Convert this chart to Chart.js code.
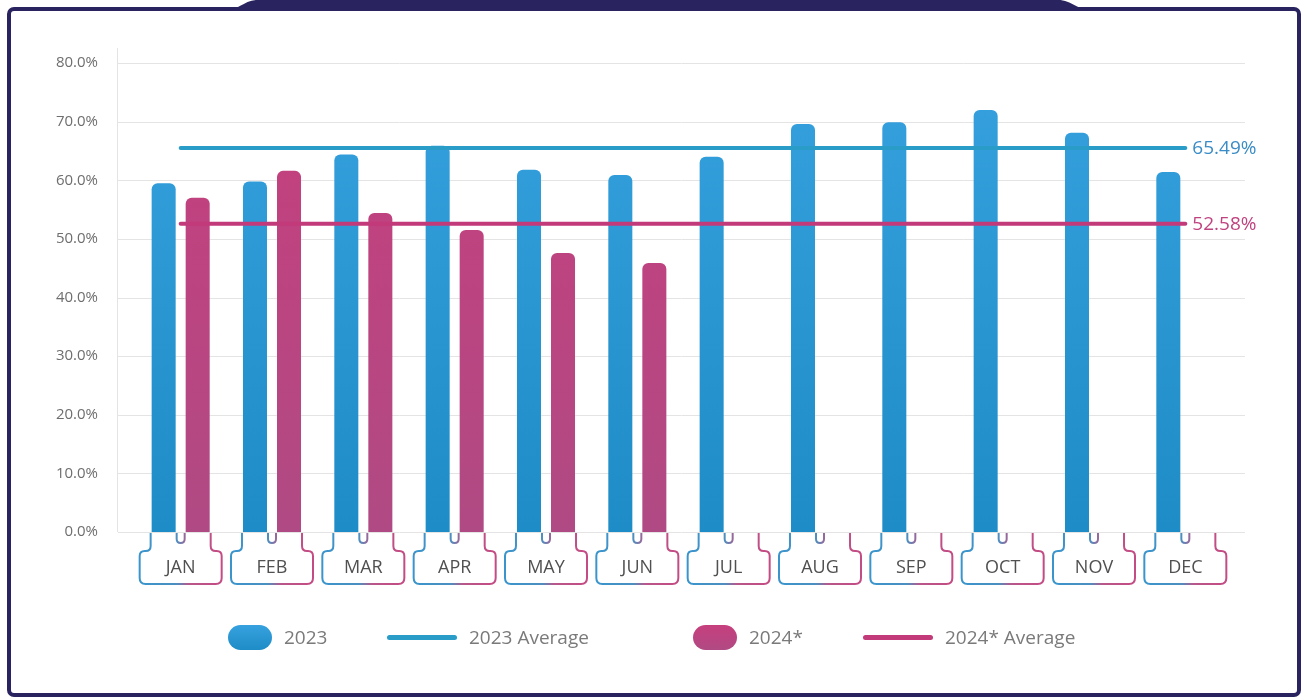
<!DOCTYPE html>
<html>
<head>
<meta charset="utf-8">
<script src="https://cdn.jsdelivr.net/npm/chart.js@4"></script>
<style>
  body { margin: 0; background: #fff; font-family: "Open Sans", sans-serif; }
  #wrap { position: relative; width: 1308px; height: 698px; overflow: hidden; background: #fff; }
  #frame { position: absolute; left: 7px; top: 7px; width: 1294px; height: 690px; box-sizing: border-box;
           border: 4px solid #29235f; border-radius: 7px; }
  #tab { position: absolute; left: 0; top: 0; }
  #chart { position: absolute; left: 0; top: 0; }
  .key { position: absolute; top: 624px; height: 26px; display: flex; align-items: center;
         font-size: 19px; color: #7a7a7a; white-space: nowrap; }
  .pill { width: 44px; height: 25px; border-radius: 13px; margin-right: 12px; }
  .bar { width: 70px; height: 5px; border-radius: 3px; margin-right: 12px; }
</style>
</head>
<body>
<div id="wrap">
  <div id="frame"></div>
  <svg id="tab" width="1308" height="14">
    <path d="M224 11 C238 11 244 0 258 0 L1058 0 C1072 0 1078 11 1094 11 Z" fill="#29235f"/>
  </svg>
  <canvas id="chart" width="1308" height="698"></canvas>
  <div id="legend"></div>
</div>
<script>
const months = ["JAN", "FEB", "MAR", "APR", "MAY", "JUN", "JUL", "AUG", "SEP", "OCT", "NOV", "DEC"];
const rate2023 = [59.5, 59.8, 64.4, 65.9, 61.8, 60.9, 64.0, 69.6, 69.9, 72.0, 68.1, 61.4];
const rate2024 = [57.0, 61.6, 54.4, 51.5, 47.6, 45.9, null, null, null, null, null, null];
const avg2023 = 65.49;
const avg2024 = 52.58;
const seriesNames = ["2023", "2023 Average", "2024*", "2024* Average"];
const yTickLabels = ["0.0%", "10.0%", "20.0%", "30.0%", "40.0%", "50.0%", "60.0%", "70.0%", "80.0%"];

const BLUE_LINE = "#2a9cc8";
const PINK_LINE = "#c23a79";

function vGradient(chart, top, bottom) {
  const area = chart.chartArea;
  if (!area) return top;
  const g = chart.ctx.createLinearGradient(0, area.top, 0, area.bottom);
  g.addColorStop(0, top);
  g.addColorStop(1, bottom);
  return g;
}

// light grid that runs a little past the plot on both sides, plus the left rule
const gridPlugin = {
  id: "wideGrid",
  beforeDatasetsDraw(chart) {
    const { ctx, chartArea, scales } = chart;
    ctx.save();
    ctx.strokeStyle = "#e4e4e4";
    ctx.lineWidth = 1;
    scales.y.ticks.forEach(t => {
      const y = Math.round(scales.y.getPixelForValue(t.value)) + 0.5;
      ctx.beginPath();
      ctx.moveTo(chartArea.left - 17, y);
      ctx.lineTo(chartArea.right + 14, y);
      ctx.stroke();
    });
    ctx.beginPath();
    ctx.moveTo(chartArea.left - 17.5, chartArea.top - 15);
    ctx.lineTo(chartArea.left - 17.5, chartArea.bottom);
    ctx.stroke();
    ctx.restore();
  }
};

// month tags under each pair of bars
const tagPlugin = {
  id: "monthTags",
  afterDatasetsDraw(chart) {
    const { ctx, scales } = chart;
    const z = scales.y.getPixelForValue(0);
    const meta = chart.getDatasetMeta(0);
    ctx.save();
    months.forEach((m, i) => {
      const c = scales.x.getPixelForValue(i);
      const el = meta.data[i];
      const half = el.width / 2;
      const bL = el.x - half - 1, bR = el.x + half + 1;
      const pL = 2 * c - bR, pR = 2 * c - bL;
      const boxL = c - 41, boxR = c + 41;
      const top = z + 1, step = z + 19, dip = z + 11, bottom = z + 52;

      const g = ctx.createLinearGradient(boxL, 0, boxR, 0);
      g.addColorStop(0, "#3a95cc");
      g.addColorStop(0.45, "#4c8fc0");
      g.addColorStop(0.6, "#b9578a");
      g.addColorStop(1, "#c44b84");
      ctx.strokeStyle = g;
      ctx.lineWidth = 2;
      ctx.lineJoin = "round";

      ctx.beginPath();
      ctx.moveTo(bL, top);
      ctx.lineTo(bL, step - 5);
      ctx.quadraticCurveTo(bL, step, bL - 5, step);
      ctx.lineTo(boxL + 5, step);
      ctx.quadraticCurveTo(boxL, step, boxL, step + 5);
      ctx.lineTo(boxL, bottom - 6);
      ctx.quadraticCurveTo(boxL, bottom, boxL + 6, bottom);
      ctx.lineTo(boxR - 6, bottom);
      ctx.quadraticCurveTo(boxR, bottom, boxR, bottom - 6);
      ctx.lineTo(boxR, step + 5);
      ctx.quadraticCurveTo(boxR, step, boxR - 5, step);
      ctx.lineTo(pR + 5, step);
      ctx.quadraticCurveTo(pR, step, pR, step - 5);
      ctx.lineTo(pR, top);
      ctx.stroke();

      ctx.beginPath();
      ctx.moveTo(bR, top);
      ctx.lineTo(bR, dip - 4);
      ctx.quadraticCurveTo(bR, dip, c, dip);
      ctx.quadraticCurveTo(pL, dip, pL, dip - 4);
      ctx.lineTo(pL, top);
      ctx.stroke();

      ctx.fillStyle = "#505050";
      ctx.font = "18px 'Open Sans'";
      ctx.textAlign = "center";
      ctx.textBaseline = "middle";
      ctx.fillText(m, c, z + 36);
    });
    ctx.restore();
  }
};

// value label at the right end of each average line
const avgLabelPlugin = {
  id: "avgLabels",
  afterDatasetsDraw(chart) {
    const { ctx } = chart;
    ctx.save();
    ctx.font = "19px 'Open Sans'";
    ctx.textAlign = "left";
    ctx.textBaseline = "middle";
    chart.data.datasets.forEach((ds, di) => {
      if (ds.type !== "line") return;
      const pts = chart.getDatasetMeta(di).data;
      const last = pts[pts.length - 1];
      ctx.fillStyle = ds.labelColor;
      ctx.fillText(ds.data[ds.data.length - 1].toFixed(2) + "%", last.x + 7, last.y + 1);
    });
    ctx.restore();
  }
};

new Chart(document.getElementById("chart"), {
  type: "bar",
  data: {
    labels: months,
    datasets: [
      {
        label: seriesNames[0],
        data: rate2023,
        backgroundColor: ctx => vGradient(ctx.chart, "#36a1de", "#1e8cc7"),
        borderRadius: { topLeft: 6, topRight: 6 },
        borderSkipped: "bottom",
        order: 2
      },
      {
        label: seriesNames[2],
        data: rate2024,
        backgroundColor: ctx => vGradient(ctx.chart, "#c63f7d", "#b04a84"),
        borderRadius: { topLeft: 6, topRight: 6 },
        borderSkipped: "bottom",
        order: 2
      },
      {
        type: "line",
        label: seriesNames[1],
        data: months.map(() => avg2023),
        borderColor: BLUE_LINE,
        labelColor: "#3a8cc6",
        borderWidth: 4,
        borderCapStyle: "round",
        pointRadius: 0,
        order: 1
      },
      {
        type: "line",
        label: seriesNames[3],
        data: months.map(() => avg2024),
        borderColor: PINK_LINE,
        labelColor: "#c0437f",
        borderWidth: 4,
        borderCapStyle: "round",
        pointRadius: 0,
        order: 0
      }
    ]
  },
  options: {
    responsive: false,
    animation: false,
    layout: { padding: { left: 20, right: 77, top: 63, bottom: 166 } },
    datasets: {
      bar: { categoryPercentage: 0.745, barPercentage: 0.706 }
    },
    scales: {
      x: { display: false },
      y: {
        min: 0,
        max: 80,
        afterFit: s => { s.width = 115; },
        grid: { display: false },
        border: { display: false },
        ticks: {
          stepSize: 10,
          padding: 29,
          color: "#6e6e6e",
          font: { family: "'Open Sans'", size: 15 },
          callback: (v, i) => yTickLabels[i]
        }
      }
    },
    plugins: {
      legend: { display: false },
      tooltip: { enabled: false }
    }
  },
  plugins: [gridPlugin, tagPlugin, avgLabelPlugin]
});

// legend row
const legend = document.getElementById("legend");
const keys = [
  { name: seriesNames[0], cls: "pill", bg: "linear-gradient(#36a1de, #1e8cc7)", left: 228 },
  { name: seriesNames[1], cls: "bar", bg: BLUE_LINE, left: 387 },
  { name: seriesNames[2], cls: "pill", bg: "linear-gradient(#c63f7d, #b04a84)", left: 693 },
  { name: seriesNames[3], cls: "bar", bg: PINK_LINE, left: 863 }
];
keys.forEach(k => {
  const d = document.createElement("div");
  d.className = "key";
  d.style.left = k.left + "px";
  const sw = document.createElement("span");
  sw.className = k.cls;
  sw.style.background = k.bg;
  d.appendChild(sw);
  d.appendChild(document.createTextNode(k.name));
  legend.appendChild(d);
});
</script>
</body>
</html>
